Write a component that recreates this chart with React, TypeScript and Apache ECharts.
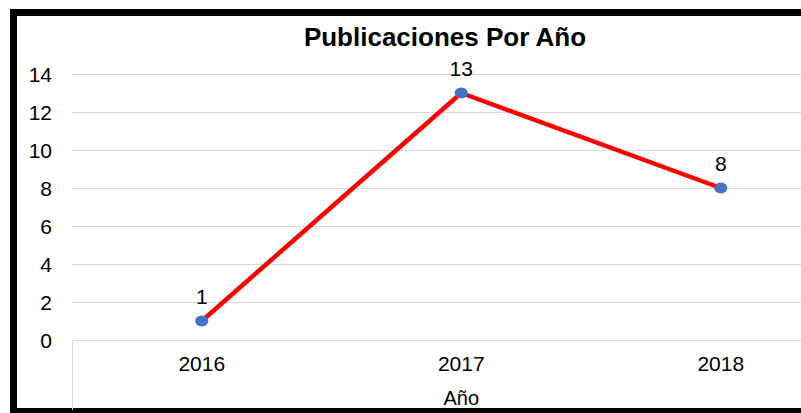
import React, { useEffect, useRef } from "react";
import * as echarts from "echarts";

const categories = ["2016", "2017", "2018"];
const publicaciones = [1, 13, 8];
const titleText = "Publicaciones Por Año";
const axisName = "Año";

export default function App() {
  const ref = useRef<HTMLDivElement>(null);
  useEffect(() => {
    if (!ref.current) return;
    const chart = echarts.init(ref.current, null, { renderer: "svg" });
    const font = "'Liberation Sans', Arial, sans-serif";
    chart.setOption({
      animation: false,
      backgroundColor: "#ffffff",
      title: {
        text: titleText,
        left: 440,
        top: 19,
        textAlign: "center",
        textStyle: { fontFamily: font, fontSize: 26, fontWeight: "bold", color: "#000000" },
      },
      grid: {
        left: 72,
        top: 74,
        bottom: 73,
        right: -49.5,
        containLabel: false,
        outerBoundsMode: "none",
      },
      xAxis: {
        type: "category",
        data: categories,
        boundaryGap: true,
        axisLine: { show: true, lineStyle: { color: "#d9d9d9", width: 1 } },
        axisTick: {
          show: true,
          length: 70,
          interval: (i: number) => i === 0,
          lineStyle: { color: "#d9d9d9", width: 1 },
        },
        axisLabel: { fontFamily: font, fontSize: 21, color: "#000000", margin: 13 },
        name: axisName,
        nameLocation: "middle",
        nameGap: 48,
        nameTextStyle: { fontFamily: font, fontSize: 20, color: "#000000" },
      },
      yAxis: {
        type: "value",
        min: 0,
        max: 14,
        interval: 2,
        axisLine: { show: false },
        axisTick: { show: false },
        splitLine: { lineStyle: { color: "#d9d9d9", width: 1 } },
        axisLabel: { fontFamily: font, fontSize: 21, color: "#000000", margin: 20 },
      },
      series: [
        {
          type: "line",
          data: publicaciones,
          symbol: "circle",
          symbolSize: [13, 11],
          itemStyle: { color: "#4472c4" },
          lineStyle: { color: "#ff0000", width: 4.5 },
          label: {
            show: true,
            position: "top",
            distance: 9,
            fontFamily: font,
            fontSize: 21,
            color: "#000000",
          },
        },
      ],
      graphic: [
        { type: "rect", shape: { x: 10, y: 9, width: 791, height: 7 }, style: { fill: "#000000" } },
        { type: "rect", shape: { x: 10, y: 9, width: 7, height: 404 }, style: { fill: "#000000" } },
        { type: "rect", shape: { x: 10, y: 408, width: 791, height: 5 }, style: { fill: "#000000" } },
      ],
    });
    return () => chart.dispose();
  }, []);
  return (
    <div
      ref={ref}
      style={{ position: "absolute", left: 0, top: 0, width: 801, height: 413 }}
    />
  );
}
